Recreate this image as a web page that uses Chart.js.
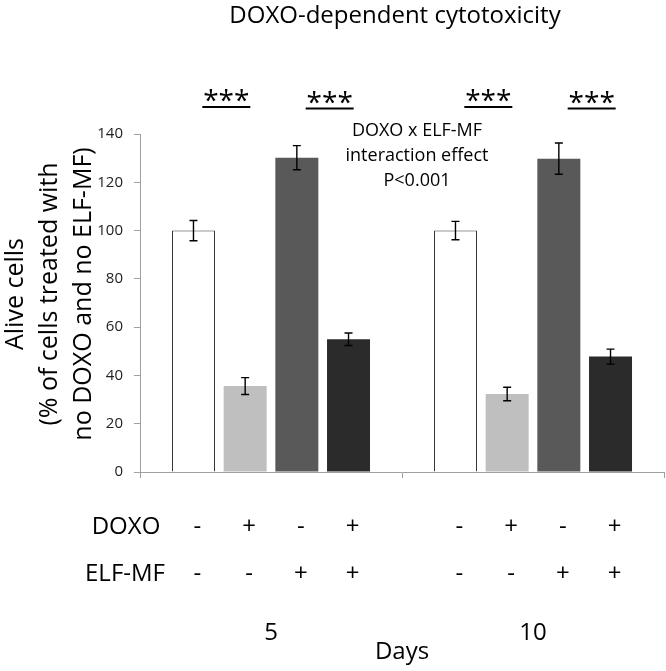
<!DOCTYPE html>
<html><head><meta charset="utf-8">
<script src="https://cdn.jsdelivr.net/npm/chart.js@4.4.1/dist/chart.umd.min.js"></script>
<style>html,body{margin:0;padding:0;background:#fff}#wrap{width:666px;height:671px;position:relative}</style>
</head><body><div id="wrap"><canvas id="c"></canvas></div>
<script>
// ---- data ----
const days = ['5', '10'];
const conditionNames = ['Control', 'DOXO', 'ELF-MF', 'DOXO + ELF-MF'];
const doxoSigns = ['-', '+', '-', '+'];
const elfSigns = ['-', '-', '+', '+'];
const ctrlVals = [100, 100];
const doxoVals = [35.6, 32.3];
const elfVals = [130.2, 129.8];
const bothVals = [55.0, 47.8];
const ctrlErr = [4.2, 3.8];
const doxoErr = [3.5, 2.8];
const elfErr = [5.0, 6.5];
const bothErr = [2.6, 3.1];
const yMin = 0, yMax = 140, yStep = 20;
const sigPairs = [[0, 1], [2, 3]];
const sigLabel = '***';
const titleText = 'DOXO-dependent cytotoxicity';
const yTitle = ['Alive cells', '(% of cells treated with', 'no DOXO and no ELF-MF)'];
const xTitle = 'Days';
const noteLines = ['DOXO x ELF-MF', 'interaction effect', 'P<0.001'];
const rowLabels = ['DOXO', 'ELF-MF'];

// ---- styles ----
const FONT = '"Open Sans", "DejaVu Sans", sans-serif';
const fills = ['#ffffff', '#bfbfbf', '#595959', '#2b2b2b'];
const borders = ['#333333', '#bfbfbf', '#595959', '#2b2b2b'];
const borderW = [1, 0, 0, 0];
const axisColor = '#a0a0a0';

const values = [ctrlVals, doxoVals, elfVals, bothVals];
const errs = [ctrlErr, doxoErr, elfErr, bothErr];

const datasets = values.map((v, i) => ({
  label: conditionNames[i],
  data: v,
  err: errs[i],
  backgroundColor: fills[i],
  borderColor: borders[i],
  borderWidth: borderW[i],
  categoryPercentage: 0.789,
  barPercentage: 0.832
}));

const annot = {
  id: 'annot',
  afterDatasetsDraw(chart) {
    const ctx = chart.ctx, ys = chart.scales.y;
    ctx.save();
    ctx.strokeStyle = '#000';
    ctx.lineWidth = 1.4;
    chart.data.datasets.forEach((ds, i) => {
      chart.getDatasetMeta(i).data.forEach((bar, j) => {
        const v = ds.data[j], e = ds.err[j];
        const yt = ys.getPixelForValue(v + e), yb = ys.getPixelForValue(v - e);
        ctx.beginPath();
        ctx.moveTo(bar.x, yt); ctx.lineTo(bar.x, yb);
        ctx.moveTo(bar.x - 4, yt); ctx.lineTo(bar.x + 4, yt);
        ctx.moveTo(bar.x - 4, yb); ctx.lineTo(bar.x + 4, yb);
        ctx.stroke();
      });
    });
    ctx.restore();
  },
  afterDraw(chart) {
    const ctx = chart.ctx;
    ctx.save();
    ctx.fillStyle = '#000';
    ctx.textAlign = 'center';
    ctx.textBaseline = 'middle';
    // title
    ctx.font = '24px ' + FONT;
    ctx.fillText(titleText, 395, 16);
    // y-axis title (rotated)
    ctx.save();
    ctx.translate(0, 294);
    ctx.rotate(-Math.PI / 2);
    ctx.font = '25px ' + FONT;
    yTitle.forEach((t, k) => ctx.fillText(t, 0, 16 + k * 34));
    ctx.restore();
    // interaction note
    ctx.font = '18px ' + FONT;
    noteLines.forEach((t, k) => ctx.fillText(t, 417, 131 + k * 25));
    // significance marks
    const nCat = days.length;
    for (let j = 0; j < nCat; j++) {
      sigPairs.forEach((p, k) => {
        const a = chart.getDatasetMeta(p[0]).data[j].x;
        const b = chart.getDatasetMeta(p[1]).data[j].x;
        const cx = (a + b) / 2 + 7;
        const ly = 107 + k * 1.5;
        ctx.font = '28px ' + FONT;
        ctx.textBaseline = 'alphabetic';
        ctx.fillText(sigLabel, cx, ly + 3);
        ctx.fillRect(cx - 24, ly - 1, 48, 2);
      });
    }
    // condition rows
    ctx.textBaseline = 'middle';
    ctx.font = '24px ' + FONT;
    ctx.fillText(rowLabels[0], 126, 527);
    ctx.fillText(rowLabels[1], 125, 574);
    chart.data.datasets.forEach((ds, i) => {
      chart.getDatasetMeta(i).data.forEach((bar) => {
        ctx.fillText(doxoSigns[i], bar.x + 4, 527);
        ctx.fillText(elfSigns[i], bar.x + 4, 574);
      });
    });
    ctx.restore();
  }
};

new Chart(document.getElementById('c'), {
  type: 'bar',
  data: { labels: days, datasets },
  plugins: [annot],
  options: {
    responsive: true,
    maintainAspectRatio: false,
    animation: false,
    devicePixelRatio: 1,
    layout: { padding: { top: 134, right: 2, bottom: 0, left: 0 } },
    plugins: { legend: { display: false }, tooltip: { enabled: false }, title: { display: false } },
    scales: {
      x: {
        afterFit(s) { s.height = 199; s.paddingLeft = 0; s.paddingRight = 0; },
        grid: { drawOnChartArea: false, drawTicks: true, tickLength: 6, color: axisColor, offset: true },
        border: { display: true, color: axisColor, width: 1 },
        ticks: { padding: 141, color: '#000', font: { family: FONT, size: 24 } },
        title: { display: true, text: xTitle, color: '#000', font: { family: FONT, size: 24 }, padding: { top: 0, bottom: 4 } }
      },
      y: {
        min: yMin, max: yMax,
        afterFit(s) { s.width = 140; s.paddingTop = 0; s.paddingBottom = 0; },
        grid: { drawOnChartArea: false, drawTicks: true, tickLength: 6, color: axisColor },
        border: { display: true, color: axisColor, width: 1 },
        ticks: { stepSize: yStep, padding: 11, color: '#222', font: { family: FONT, size: 15 } },
        title: { display: false }
      }
    }
  }
});
</script>
</body></html>
